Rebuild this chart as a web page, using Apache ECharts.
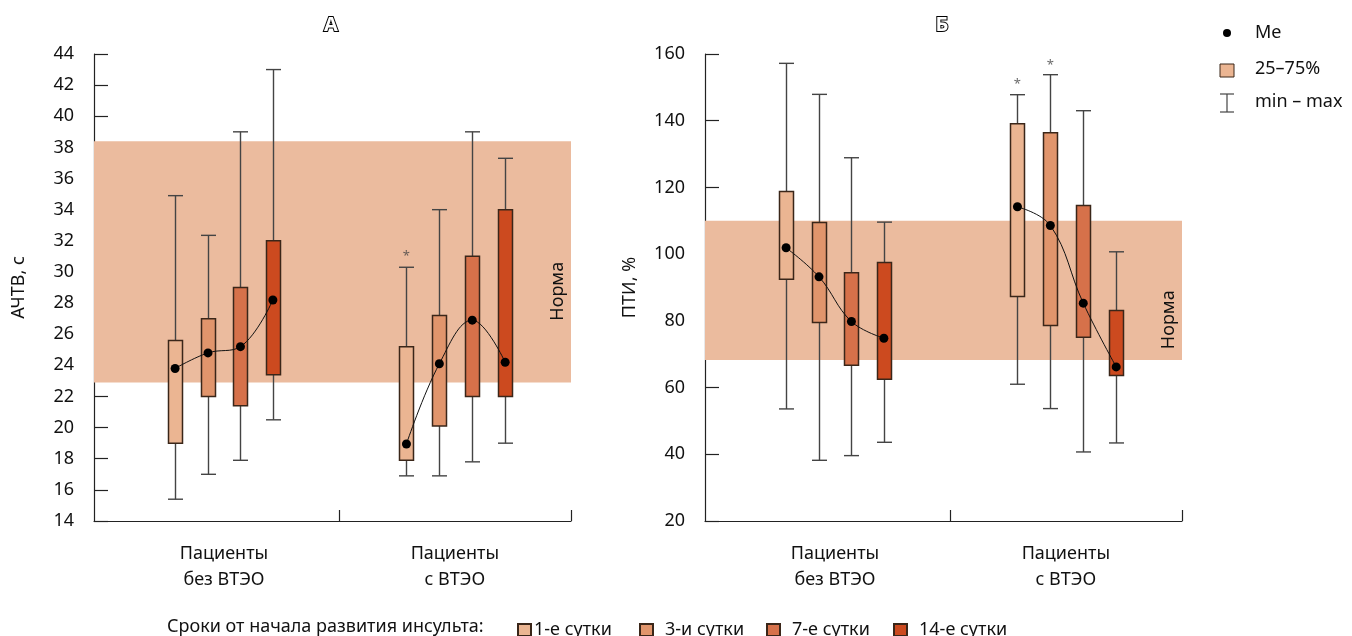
<!DOCTYPE html>
<html>
<head>
<meta charset="utf-8">
<script src="https://cdn.jsdelivr.net/npm/echarts@6/dist/echarts.min.js"></script>
<style>
  html, body { margin: 0; padding: 0; background: #fff; }
  #chart { width: 1352px; height: 636px; }
</style>
</head>
<body>
<div id="chart"></div>
<script>
// сроки от начала развития инсульта
const days = ['1-е сутки', '3-и сутки', '7-е сутки', '14-е сутки']
const groups = ['Пациенты\nбез ВТЭО', 'Пациенты\nс ВТЭО']

// [min, Q1, Me, Q3, max] по дням
const apttNoVte = [[15.4, 19.0, 23.8, 25.6, 34.9], [17.0, 22.0, 24.8, 27.0, 32.35], [17.9, 21.4, 25.2, 29.0, 39.0], [20.5, 23.4, 28.2, 32.0, 43.0]]
const apttVte = [[16.9, 17.9, 18.95, 25.2, 30.3], [16.9, 20.1, 24.1, 27.2, 34.0], [17.8, 22.0, 26.9, 31.0, 39.0], [19.0, 22.0, 24.2, 34.0, 37.3]]
const ptiNoVte = [[53.6, 92.5, 101.9, 118.8, 157.2], [38.2, 79.5, 93.2, 109.5, 147.9], [39.6, 66.7, 79.8, 94.4, 128.9], [43.6, 62.5, 74.8, 97.5, 109.6]]
const ptiVte = [[61.0, 87.3, 114.2, 139.1, 147.8], [53.7, 78.6, 108.6, 136.4, 153.8], [40.7, 75.1, 85.3, 114.6, 143.0], [43.4, 63.6, 66.2, 83.1, 100.7]]

// норма
const normAptt = [22.9, 38.4]
const normPti = [68.3, 110]

// значимые отличия (*): [группа, день, значение]
const starsAptt = [[1, 0, 31.2]]
const starsPti = [[1, 0, 151.9], [1, 1, 157.6]]

// оси
const ticksAptt = { min: 14, max: 44, interval: 2 }
const ticksPti = { min: 20, max: 160, interval: 20 }

const colors = ['#EBB592', '#E1956C', '#D6714A', '#CC4A1F']
// позиции на оси x (0..2)
const boxPos = [[0.34, 0.478, 0.614, 0.75], [1.31, 1.448, 1.586, 1.724]]
const groupLabelPos = [0.545, 1.513]
const groupTickPos = [1.027, 2]

const font = 'Noto Sans'
const textColor = '#111'

function renderBox(params, api) {
  const x = api.value(0)
  const pMin = api.coord([x, api.value(1)])
  const pQ1 = api.coord([x, api.value(2)])
  const pQ3 = api.coord([x, api.value(4)])
  const pMax = api.coord([x, api.value(5)])
  const cx = Math.round(pMin[0]) + 0.5
  const hw = 7
  const cw = 7.5
  const wStyle = { stroke: '#444', lineWidth: 1.4 }
  return {
    type: 'group',
    children: [
      { type: 'line', shape: { x1: cx, y1: pMax[1], x2: cx, y2: pMin[1] }, style: wStyle },
      { type: 'line', shape: { x1: cx - cw, y1: pMax[1], x2: cx + cw, y2: pMax[1] }, style: wStyle },
      { type: 'line', shape: { x1: cx - cw, y1: pMin[1], x2: cx + cw, y2: pMin[1] }, style: wStyle },
      {
        type: 'rect',
        shape: { x: cx - hw, y: pQ3[1], width: hw * 2, height: pQ1[1] - pQ3[1] },
        style: { fill: api.visual('color'), stroke: '#3a2619', lineWidth: 1.5 }
      }
    ]
  }
}

function panelSeries(idx, noVte, vte, norm, stars) {
  const list = []
  // полоса нормы
  list.push({
    type: 'line',
    xAxisIndex: idx,
    yAxisIndex: idx,
    data: [],
    z: 0,
    silent: true,
    markArea: {
      silent: true,
      itemStyle: { color: '#EBBB9E' },
      label: {
        show: true,
        position: 'insideRight',
        rotate: 90,
        distance: 13,
        fontFamily: font,
        fontSize: 18,
        color: textColor
      },
      data: [[{ yAxis: norm[0], name: 'Норма' }, { yAxis: norm[1] }]]
    }
  })
  days.forEach((d, i) => {
    list.push({
      name: d,
      type: 'custom',
      xAxisIndex: idx,
      yAxisIndex: idx,
      z: 3,
      itemStyle: { color: colors[i], borderColor: '#3a2619', borderWidth: 1 },
      renderItem: renderBox,
      encode: { x: 0, y: [1, 2, 3, 4, 5] },
      data: [
        [boxPos[0][i]].concat(noVte[i]),
        [boxPos[1][i]].concat(vte[i])
      ]
    })
  })
  // медианы
  ;[noVte, vte].forEach((arr, g) => {
    list.push({
      type: 'line',
      xAxisIndex: idx,
      yAxisIndex: idx,
      z: 5,
      smooth: 0.4,
      symbol: 'circle',
      symbolSize: 9,
      lineStyle: { color: '#111', width: 1 },
      itemStyle: { color: '#000' },
      data: arr.map((v, i) => [boxPos[g][i], v[2]])
    })
  })
  list.push({
    type: 'scatter',
    xAxisIndex: idx,
    yAxisIndex: idx,
    symbolSize: 0,
    z: 5,
    label: { show: true, position: 'inside', formatter: '*', fontFamily: font, fontSize: 13, color: '#444', offset: [0, 3] },
    data: stars.map(s => [boxPos[s[0]][s[1]], s[2]])
  })
  return list
}

function yAxis(idx, name, t) {
  return {
    type: 'value',
    gridIndex: idx,
    min: t.min,
    max: t.max,
    interval: t.interval,
    name: name,
    nameLocation: 'middle',
    nameGap: 66,
    nameTextStyle: { fontFamily: font, fontSize: 18, color: textColor },
    axisLine: { show: true, lineStyle: { color: '#222', width: 1.2 } },
    axisTick: { show: true, inside: true, length: 14, lineStyle: { color: '#222', width: 1.2 } },
    axisLabel: { fontFamily: font, fontSize: 18, color: textColor, margin: 20 },
    splitLine: { show: false }
  }
}

function xAxis(idx) {
  return {
    type: 'value',
    gridIndex: idx,
    min: 0,
    max: 2,
    axisLine: { show: true, lineStyle: { color: '#222', width: 1.2 } },
    axisTick: { show: true, inside: true, length: 11, customValues: groupTickPos, lineStyle: { color: '#222', width: 1.2 } },
    axisLabel: {
      fontFamily: font,
      fontSize: 18,
      lineHeight: 26,
      color: textColor,
      margin: 20,
      customValues: groupLabelPos,
      formatter: v => (v < 1 ? groups[0] : groups[1])
    },
    splitLine: { show: false }
  }
}

function dayLegend(i, left, gap) {
  return {
    data: [{ name: days[i], icon: 'rect' }],
    left: left,
    top: 621,
    padding: 0,
    itemWidth: 13,
    itemHeight: 12,
    selectedMode: false,
    textStyle: { fontFamily: font, fontSize: 18, color: textColor, padding: [0, 0, 0, gap] }
  }
}

const chart = echarts.init(document.getElementById('chart'))
chart.setOption({
  animation: false,
  grid: [
    { left: 94, top: 54, width: 477, height: 467 },
    { left: 705, top: 54, width: 477, height: 467 }
  ],
  xAxis: [xAxis(0), xAxis(1)],
  yAxis: [yAxis(0, 'АЧТВ, с', ticksAptt), yAxis(1, 'ПТИ, %', ticksPti)],
  legend: [dayLegend(0, 517, -2), dayLegend(1, 639, 7), dayLegend(2, 766, 7), dayLegend(3, 893, 7)],
  graphic: [
    { type: 'text', x: 167, y: 627, style: { text: 'Сроки от начала развития инсульта:', font: '18px "Noto Sans"', fill: textColor, verticalAlign: 'middle' } },
    { type: 'text', x: 331, y: 25, style: { text: 'А', font: 'bold 20px "Noto Sans"', fill: '#fff', stroke: '#000', lineWidth: 2, align: 'center', verticalAlign: 'middle' } },
    { type: 'text', x: 942, y: 25, style: { text: 'Б', font: 'bold 20px "Noto Sans"', fill: '#fff', stroke: '#000', lineWidth: 2, align: 'center', verticalAlign: 'middle' } },
    // легенда справа
    { type: 'circle', shape: { cx: 1227, cy: 33, r: 4 }, style: { fill: '#000' } },
    { type: 'text', x: 1255, y: 33, style: { text: 'Me', font: '18px "Noto Sans"', fill: textColor, verticalAlign: 'middle' } },
    { type: 'rect', shape: { x: 1220, y: 64, width: 14, height: 13 }, style: { fill: colors[0], stroke: '#3a2619', lineWidth: 1 } },
    { type: 'text', x: 1255, y: 69, style: { text: '25–75%', font: '18px "Noto Sans"', fill: textColor, verticalAlign: 'middle' } },
    { type: 'line', shape: { x1: 1227, y1: 94, x2: 1227, y2: 112 }, style: { stroke: '#444', lineWidth: 1.2 } },
    { type: 'line', shape: { x1: 1220, y1: 94, x2: 1234, y2: 94 }, style: { stroke: '#444', lineWidth: 1.2 } },
    { type: 'line', shape: { x1: 1220, y1: 112, x2: 1234, y2: 112 }, style: { stroke: '#444', lineWidth: 1.2 } },
    { type: 'text', x: 1255, y: 102, style: { text: 'min – max', font: '18px "Noto Sans"', fill: textColor, verticalAlign: 'middle' } }
  ],
  series: panelSeries(0, apttNoVte, apttVte, normAptt, starsAptt).concat(
    panelSeries(1, ptiNoVte, ptiVte, normPti, starsPti)
  )
})
</script>
</body>
</html>
